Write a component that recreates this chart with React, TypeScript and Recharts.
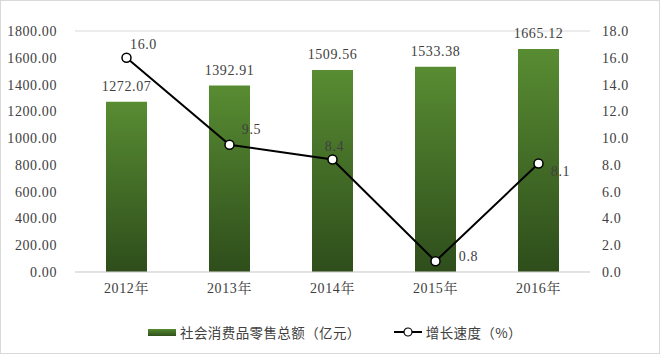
import { ComposedChart, Bar, Line, XAxis, YAxis, CartesianGrid, LabelList, Legend } from 'recharts'

const years = ['2012年', '2013年', '2014年', '2015年', '2016年']
const sales = [1272.07, 1392.91, 1509.56, 1533.38, 1665.12]
const growth = [16.0, 9.5, 8.4, 0.8, 8.1]
const leftTicks = [0, 200, 400, 600, 800, 1000, 1200, 1400, 1600, 1800]
const rightTicks = [0, 2, 4, 6, 8, 10, 12, 14, 16, 18]

// label offsets for the growth line, per point (dx, dy from dot centre)
const growthLabelOffsets = [
  [17, -13],
  [22, -15],
  [2, -13],
  [33, -5],
  [22, 8],
]

const data = years.map((y, i) => ({ year: y, sales: sales[i], growth: growth[i] }))

const NUM_FONT = "'Liberation Serif', 'Noto Serif CJK SC', 'Noto Sans CJK SC', serif"
const TEXT_COLOR = '#404040'
const NUM_STYLE = { fontSize: 14, fontFamily: NUM_FONT, fill: TEXT_COLOR, letterSpacing: 0.6 }

function GrowthLabel(props: any) {
  const { x, y, value, index } = props
  const [dx, dy] = growthLabelOffsets[index] || [0, -10]
  return (
    <text
      x={x + dx}
      y={y + dy}
      textAnchor="middle"
      dominantBaseline="central"
      style={NUM_STYLE}
    >
      {value.toFixed(1)}
    </text>
  )
}

function LegendContent() {
  return (
    <div
      style={{
        height: 24,
        display: 'flex',
        justifyContent: 'center',
        alignItems: 'center',
        fontFamily: "'Noto Sans CJK SC', sans-serif",
        fontSize: 13.5,
        color: TEXT_COLOR,
        paddingLeft: 10,
      }}
    >
      <span style={{ display: 'inline-block', width: 28, height: 7, background: 'linear-gradient(#558a30, #30501c)', marginRight: 4 }} />
      <span style={{ letterSpacing: 0.4 }}>社会消费品零售总额（亿元）</span>
      <svg width={30} height={12} style={{ marginLeft: 32, marginRight: 3 }}>
        <line x1={1} y1={6} x2={29} y2={6} stroke="#000" strokeWidth={2} />
        <circle cx={15} cy={6} r={4} fill="#fff" stroke="#000" strokeWidth={1.2} />
      </svg>
      <span style={{ letterSpacing: 0.4 }}>增长速度（%）</span>
    </div>
  )
}

export default function App() {
  return (
    <div
      style={{
        position: 'fixed',
        left: 0,
        top: 0,
        width: 660,
        height: 354,
        border: '1px solid #d9d9d9',
        boxSizing: 'border-box',
        background: '#fff',
      }}
    >
      <ComposedChart width={658} height={352} data={data} margin={{ top: 30, right: 0, left: 0, bottom: 9 }}>
        <defs>
          <linearGradient id="barGrad" x1="0" y1="0" x2="0" y2="1">
            <stop offset="0%" stopColor="#588c32" />
            <stop offset="100%" stopColor="#2e4d1b" />
          </linearGradient>
        </defs>
        <CartesianGrid vertical={false} stroke="#d9d9d9" />
        <XAxis
          dataKey="year"
          height={48}
          axisLine={{ stroke: '#d9d9d9' }}
          tickLine={false}
          tickSize={0}
          tickMargin={11}
          tick={NUM_STYLE}
        />
        <YAxis
          yAxisId="left"
          width={74}
          domain={[0, 1800]}
          ticks={leftTicks}
          axisLine={false}
          tickLine={false}
          tickSize={0}
          tickMargin={18}
          tickFormatter={(v) => v.toFixed(2)}
          tick={NUM_STYLE}
        />
        <YAxis
          yAxisId="right"
          orientation="right"
          width={69}
          domain={[0, 18]}
          ticks={rightTicks}
          axisLine={false}
          tickLine={false}
          tickSize={0}
          tickMargin={12}
          tickFormatter={(v) => v.toFixed(1)}
          tick={NUM_STYLE}
        />
        <Legend verticalAlign="bottom" content={<LegendContent />} />
        <Bar yAxisId="left" dataKey="sales" name="社会消费品零售总额（亿元）" fill="url(#barGrad)" barSize={41} isAnimationActive={false}>
          <LabelList
            dataKey="sales"
            position="top"
            offset={11}
            formatter={(v: any) => Number(v).toFixed(2)}
            style={NUM_STYLE}
          />
        </Bar>
        <Line
          yAxisId="right"
          type="linear"
          dataKey="growth"
          name="增长速度（%）"
          stroke="#000"
          strokeWidth={2}
          dot={{ r: 4.5, fill: '#fff', stroke: '#000', strokeWidth: 1.5 }}
          isAnimationActive={false}
        >
          <LabelList dataKey="growth" content={<GrowthLabel />} />
        </Line>
      </ComposedChart>
    </div>
  )
}
